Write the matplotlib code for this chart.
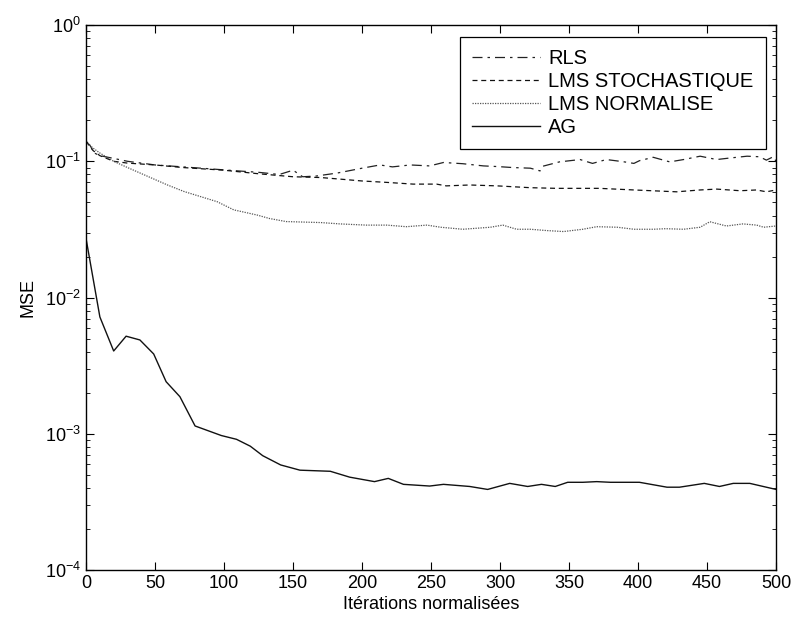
import matplotlib
matplotlib.use("Agg")
import matplotlib.pyplot as plt
import numpy as np

plt.rcParams['font.family'] = ['Liberation Sans', 'DejaVu Sans']

# --- data ---
rls_x = [0, 3, 6, 10, 20, 30, 40, 50, 70, 90, 110, 125, 140, 150, 157, 167, 182, 190, 200,
         213, 222, 235, 249, 259, 273, 288, 298, 309, 322, 329, 331, 343, 358, 367, 377,
         389, 397, 401, 411, 423, 433, 445, 457, 464, 479, 488, 493, 498, 500]
rls_y = [0.14, 0.13, 0.115, 0.11, 0.105, 0.1, 0.097, 0.094, 0.091, 0.088, 0.085, 0.083,
         0.080, 0.086, 0.077, 0.078, 0.082, 0.085, 0.089, 0.094, 0.091, 0.094, 0.0925,
         0.098, 0.096, 0.0925, 0.0915, 0.090, 0.089, 0.085, 0.092, 0.099, 0.103, 0.0965,
         0.103, 0.0994, 0.0965, 0.101, 0.107, 0.099, 0.103, 0.109, 0.103, 0.105, 0.109,
         0.108, 0.102, 0.108, 0.100]

lms_x = [0, 5, 10, 20, 30, 50, 70, 100, 125, 150, 170, 184, 200, 218, 237, 254, 261, 278,
         298, 322, 341, 360, 372, 397, 428, 445, 457, 474, 486, 493, 500]
lms_y = [0.14, 0.12, 0.11, 0.10, 0.097, 0.094, 0.090, 0.086, 0.081, 0.077, 0.076, 0.074,
         0.0717, 0.070, 0.068, 0.068, 0.066, 0.067, 0.066, 0.064, 0.0633, 0.0633, 0.0633,
         0.0616, 0.0597, 0.0616, 0.0625, 0.0608, 0.0616, 0.0597, 0.0616]

nlms_x = [0, 5, 10, 20, 30, 59, 71, 95, 107, 124, 133, 145, 170, 184, 203, 218, 232, 247,
          257, 273, 293, 302, 312, 322, 334, 346, 360, 370, 385, 397, 411, 420, 433, 445,
          452, 464, 476, 486, 491, 500]
nlms_y = [0.14, 0.125, 0.115, 0.10, 0.090, 0.067, 0.060, 0.0505, 0.044, 0.0403, 0.038,
          0.0361, 0.0355, 0.0347, 0.034, 0.034, 0.0331, 0.034, 0.0328, 0.0317, 0.0328,
          0.034, 0.0317, 0.0317, 0.031, 0.0305, 0.0317, 0.0331, 0.0328, 0.0317, 0.0317,
          0.032, 0.0317, 0.0328, 0.036, 0.0335, 0.0347, 0.034, 0.0328, 0.0335]

ag_x = [0, 10, 20, 29, 39, 49, 58, 68, 79, 98, 109, 119, 128, 141, 155, 177, 191, 209,
        219, 230, 249, 259, 278, 291, 307, 320, 330, 340, 349, 360, 370, 380, 401, 421,
        430, 448, 459, 469, 481, 500]
ag_y = [0.027, 0.0072, 0.00405, 0.0052, 0.00488, 0.00385, 0.00241, 0.00187, 0.00114,
        0.00097, 0.00091, 0.00081, 0.00069, 0.00059, 0.00054, 0.00053, 0.00048, 0.000445,
        0.00047, 0.000425, 0.000413, 0.000425, 0.00041, 0.00039, 0.000432, 0.00041,
        0.000425, 0.00041, 0.00044, 0.00044, 0.000445, 0.00044, 0.00044, 0.000405,
        0.000405, 0.000432, 0.00041, 0.000432, 0.000432, 0.00039]

labels = ['RLS', 'LMS STOCHASTIQUE', 'LMS NORMALISE', 'AG']
x_ticks = [0, 50, 100, 150, 200, 250, 300, 350, 400, 450, 500]

fig = plt.figure(figsize=(7.97, 6.27), dpi=100)
ax = fig.add_axes([0.108, 0.091, 0.8657, 0.869])

ax.plot(rls_x, rls_y, color='#222222', lw=0.9, linestyle=(0, (8, 4, 2, 4)), label=labels[0])
ax.plot(lms_x, lms_y, color='#111111', lw=0.9, linestyle=(0, (4, 3)), label=labels[1])
ax.plot(nlms_x, nlms_y, color='#555555', lw=0.9, linestyle=(0, (1, 1)), label=labels[2])
ax.plot(ag_x, ag_y, color='#111111', lw=1.0, linestyle='-', label=labels[3])

ax.set_yscale('log')
ax.set_xlim(0, 500)
ax.set_ylim(1e-4, 1)
ax.set_xticks(x_ticks)
ax.set_xlabel('Itérations normalisées', fontsize=13, labelpad=3)
ax.set_ylabel('MSE', fontsize=13, labelpad=6)
ax.tick_params(axis='both', which='both', direction='in', top=True, right=True,
               labelsize=13, colors='black')
ax.tick_params(which='major', length=6, width=0.8)
ax.tick_params(which='minor', length=3, width=0.6)
for s in ax.spines.values():
    s.set_linewidth(1.0)
    s.set_color('black')

leg = ax.legend(loc='upper right', bbox_to_anchor=(0.985, 0.978), fontsize=14.5,
                frameon=True, fancybox=False, edgecolor='black', framealpha=1,
                handlelength=3.4, handletextpad=0.4, borderpad=0.6, labelspacing=0.2,
                borderaxespad=0)
leg.get_frame().set_linewidth(0.9)

fig.savefig('out.png', dpi=100)
